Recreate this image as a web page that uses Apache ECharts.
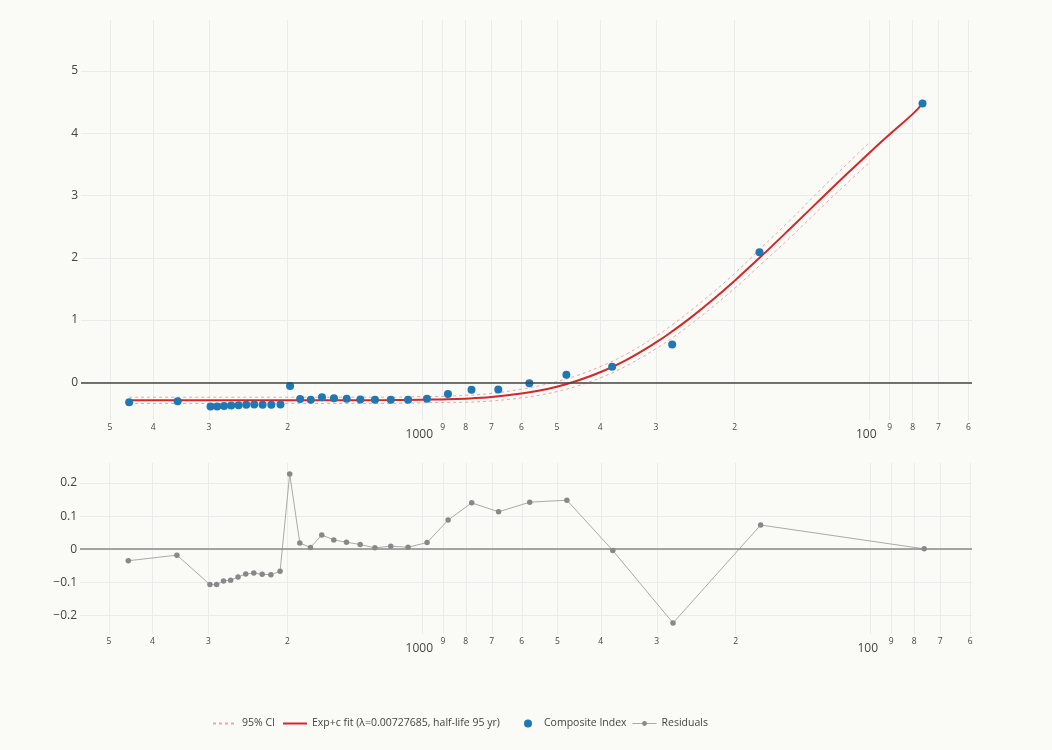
<!DOCTYPE html>
<html>
<head>
<meta charset="utf-8">
<title>Composite Index – Exp+c fit</title>
<script src="https://cdn.jsdelivr.net/npm/echarts@6.0.0/dist/echarts.min.js"></script>
<style>
  html, body { margin: 0; padding: 0; background: #fafaf7; }
  #chart { width: 1052px; height: 750px; }
</style>
</head>
<body>
<div id="chart"></div>
<script>
// years before present (x) and the composite index value (y)
const indexYears = [4526, 3526, 2976, 2876, 2776, 2676, 2576, 2476, 2376, 2276, 2176, 2076, 1976, 1876, 1776, 1676, 1576, 1476, 1376, 1276, 1176, 1076, 976, 876, 776, 676, 576, 476, 376, 276, 176, 76]
const indexValues = [-0.32, -0.305, -0.39, -0.39, -0.38, -0.375, -0.37, -0.36, -0.355, -0.36, -0.36, -0.355, -0.06, -0.27, -0.28, -0.24, -0.255, -0.265, -0.275, -0.28, -0.28, -0.28, -0.265, -0.19, -0.12, -0.115, -0.015, 0.12, 0.25, 0.605, 2.09, 4.48]
const residuals = [-0.035, -0.018, -0.107, -0.107, -0.096, -0.094, -0.084, -0.075, -0.072, -0.076, -0.077, -0.067, 0.227, 0.019, 0.005, 0.043, 0.028, 0.021, 0.014, 0.004, 0.009, 0.006, 0.02, 0.088, 0.14, 0.113, 0.142, 0.148, -0.004, -0.223, 0.073, 0.001]

// fitted curve
const fitYears = [4526, 3000, 2000, 1500, 1200, 1000, 900, 800, 700, 600, 550, 500, 450, 400, 350, 300, 275, 250, 225, 200, 175, 150, 125, 112, 100, 90, 80, 76]
const fitValues = [-0.287, -0.287, -0.287, -0.287, -0.286, -0.281, -0.275, -0.263, -0.237, -0.182, -0.137, -0.071, 0.024, 0.161, 0.357, 0.64, 0.825, 1.047, 1.313, 1.632, 2.015, 2.474, 3.025, 3.353, 3.685, 3.985, 4.308, 4.478]

// 95% confidence band
const ciYears = [4526, 3000, 2000, 1500, 1200, 1000, 900, 800, 700, 600, 550, 500, 450, 400, 350, 300, 275, 250, 225, 200, 175, 150, 125, 112, 100]
const ciUpper = [-0.24, -0.24, -0.24, -0.24, -0.24, -0.23, -0.225, -0.21, -0.18, -0.11, -0.06, 0.01, 0.11, 0.25, 0.45, 0.74, 0.93, 1.16, 1.43, 1.75, 2.15, 2.61, 3.18, 3.51, 3.85]
const ciLower = [-0.34, -0.34, -0.34, -0.34, -0.34, -0.33, -0.325, -0.32, -0.3, -0.25, -0.21, -0.15, -0.06, 0.07, 0.26, 0.54, 0.72, 0.94, 1.2, 1.51, 1.89, 2.33, 2.88, 3.2, 3.53]

// axis ticks
const xTickValues = [5000, 4000, 3000, 2000, 1000, 900, 800, 700, 600, 500, 400, 300, 200, 100, 90, 80, 70, 60]
const yTopTicks = [0, 1, 2, 3, 4, 5]
const yBottomTicks = [-0.2, -0.1, 0, 0.1, 0.2]

const fitName = 'Exp+c fit (λ=0.00727685, half-life 95 yr)'
const font = 'Open Sans'

const lg = (v) => Math.log10(v)
const pairs = (xs, ys) => xs.map((x, i) => [lg(x), ys[i]])
const xTicks = xTickValues.map(lg)

function xLabel(v) {
  const n = Math.round(Math.pow(10, v))
  if (n === 1000 || n === 100) return '{big|' + n + '}'
  return '{small|' + String(n)[0] + '}'
}

function xAxis(gridIndex, right, left) {
  return {
    type: 'value',
    gridIndex,
    inverse: true,
    min: lg(right),
    max: lg(left),
    axisLine: { show: false },
    axisTick: { show: false, customValues: xTicks },
    axisLabel: {
      customValues: xTicks,
      margin: 2,
      formatter: xLabel,
      rich: {
        small: { fontSize: 8.5, lineHeight: 11, color: '#444', fontFamily: font },
        big: { fontSize: 12, lineHeight: 26, color: '#444', fontFamily: font, padding: [0, 6, 0, 0] },
      },
    },
    splitLine: { show: true, lineStyle: { color: '#ebebeb', width: 1 } },
  }
}

function yAxis(gridIndex, min, max, ticks) {
  return {
    type: 'value',
    gridIndex,
    min,
    max,
    axisLine: { show: false },
    axisTick: { show: false, customValues: ticks },
    axisLabel: {
      customValues: ticks,
      margin: 3,
      fontSize: 12,
      color: '#444',
      fontFamily: font,
      formatter: (v) => (v < 0 ? '\u2212' + Math.abs(v) : String(v)),
    },
    splitLine: { show: true, lineStyle: { color: '#ebebeb', width: 1 } },
  }
}

const zeroLine = (color, width) => ({
  silent: true,
  symbol: ['none', 'none'],
  label: { show: false },
  lineStyle: { color, width, type: 'solid' },
  data: [{ yAxis: 0 }],
})

// one legend box per entry so each sits where the reference has it
const legendItem = (left, item, extra = {}) => ({
  left,
  top: 718,
  padding: 0,
  itemWidth: 24,
  itemHeight: 8,
  textStyle: { fontSize: 10.5, color: '#444', fontFamily: font },
  data: [item],
  ...extra,
})

const chart = echarts.init(document.getElementById('chart'))

chart.setOption({
  backgroundColor: '#fafaf7',
  animation: false,
  textStyle: { fontFamily: font },
  grid: [
    { left: 81, right: 80, top: 20, height: 400 },
    { left: 80, right: 80, top: 463, height: 171 },
  ],
  xAxis: [xAxis(0, 58.9, 5801), xAxis(1, 59.45, 5800)],
  yAxis: [yAxis(0, -0.606, 5.82, yTopTicks), yAxis(1, -0.2563, 0.2604, yBottomTicks)],
  legend: [
    legendItem(212, { name: '95% CI', itemStyle: { opacity: 0 } }),
    legendItem(282, { name: fitName, itemStyle: { opacity: 0 } }),
    legendItem(524, { name: 'Composite Index', icon: 'circle' }, {
      itemWidth: 8,
      textStyle: { fontSize: 10.5, color: '#444', fontFamily: font, padding: [0, 0, 0, 7] },
    }),
    legendItem(632, { name: 'Residuals', lineStyle: { width: 1 } }, { itemHeight: 6 }),
  ],
  series: [
    {
      name: '95% CI',
      type: 'line',
      xAxisIndex: 0,
      yAxisIndex: 0,
      smooth: 0.4,
      symbol: 'none',
      itemStyle: { color: 'rgba(214,39,40,0.4)' },
      lineStyle: { color: 'rgba(214,39,40,0.4)', width: 1, type: [3, 3] },
      data: pairs(ciYears, ciUpper),
    },
    {
      name: '95% CI',
      type: 'line',
      xAxisIndex: 0,
      yAxisIndex: 0,
      smooth: 0.4,
      symbol: 'none',
      itemStyle: { color: 'rgba(214,39,40,0.4)' },
      lineStyle: { color: 'rgba(214,39,40,0.4)', width: 1, type: [3, 3] },
      data: pairs(ciYears, ciLower),
    },
    {
      name: fitName,
      type: 'line',
      xAxisIndex: 0,
      yAxisIndex: 0,
      smooth: 0.4,
      symbol: 'none',
      itemStyle: { color: '#d62728' },
      lineStyle: { color: '#d62728', width: 2 },
      data: pairs(fitYears, fitValues),
    },
    {
      name: 'Composite Index',
      type: 'scatter',
      xAxisIndex: 0,
      yAxisIndex: 0,
      symbolSize: 8,
      itemStyle: { color: '#1f77b4', opacity: 1 },
      markLine: zeroLine('#444', 1.6),
      z: 3,
      data: pairs(indexYears, indexValues),
    },
    {
      name: 'Residuals',
      type: 'line',
      xAxisIndex: 1,
      yAxisIndex: 1,
      symbol: 'circle',
      symbolSize: 5.5,
      showSymbol: true,
      itemStyle: { color: '#888' },
      lineStyle: { color: '#aaa', width: 1 },
      markLine: zeroLine('#888', 1.5),
      data: pairs(indexYears, residuals),
    },
  ],
})
</script>
</body>
</html>
